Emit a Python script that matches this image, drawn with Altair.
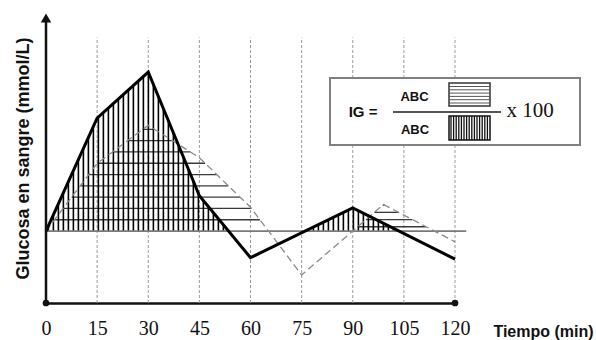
import altair as alt
import numpy as np
import pandas as pd

# ---------------- data ----------------
tick_times = [0, 15, 30, 45, 60, 75, 90, 105, 120]
grid_times = [15, 30, 45, 60, 75, 90, 105, 120]

test_time = [0, 15, 30, 45, 60, 90, 120]
test_glucose = [5.0, 12.85, 16.05, 7.45, 3.15, 6.6, 3.05]

ref_time = [0, 15, 30, 45, 60, 75, 90, 99, 120]
ref_glucose = [5.0, 9.7, 12.35, 10.1, 6.65, 1.95, 5.0, 6.85, 4.25]

fasting = 5.0
fasting_end = 123.3
grid_top = 18.45
axis_top = 19.9

x_title = "Tiempo (min)"
y_title = "Glucosa en sangre (mmol/L)"

# ---------------- derived hatch geometry ----------------
def runs(ts, gs, level, t0, t1):
    tt = np.linspace(t0, t1, 6001)
    gg = np.interp(tt, ts, gs)
    inside = gg >= level - 1e-9
    out = []
    i, n = 0, len(tt)
    while i < n:
        if inside[i]:
            j = i
            while j + 1 < n and inside[j + 1]:
                j += 1
            if j > i:
                out.append((tt[i], tt[j]))
            i = j + 1
        else:
            i += 1
    return out

tv = np.arange(0.7, 120, 1.467)
gv = np.interp(tv, test_time, test_glucose)
vh = pd.DataFrame({"t": tv, "g": gv})
vh = vh[vh.g > fasting + 0.08]
vh["g0"] = fasting

hrows = []
lvl = fasting + 0.785
while lvl < max(ref_glucose[:6]):
    for a, b in runs(ref_time, ref_glucose, lvl, 0, 75):
        hrows.append({"t": a, "t2": b, "g": lvl})
    lvl += 0.785
lvl = fasting + 0.3
while lvl < max(ref_glucose[6:]):
    for a, b in runs(ref_time, ref_glucose, lvl, 75, 120):
        hrows.append({"t": a, "t2": b, "g": lvl})
    lvl += 0.5
hh = pd.DataFrame(hrows)

X = alt.Scale(domain=[0, 120], nice=False, zero=False)
Y = alt.Scale(domain=[0, 20.5], nice=False, zero=False)

AX = alt.Axis(
    values=tick_times, domain=True, domainColor="#111", domainWidth=2.5,
    ticks=False, grid=False, labelFont="Liberation Serif", labelFontSize=20,
    labelColor="#111", labelPadding=15, labelFlush=False, labelOverlap=False,
    title=x_title, titleFont="Liberation Sans", titleFontSize=16,
    titleFontWeight="bold", titleColor="#111", titleX=497, titleY=33,
    titleAlign="center", titleBaseline="alphabetic")
AY = alt.Axis(
    domain=False, ticks=False, labels=False, grid=False,
    title=y_title, titleFont="Liberation Sans", titleFontSize=18,
    titleFontWeight="bold", titleColor="#111", titleAngle=270,
    titleX=-23, titleY=150, titleAlign="center", titleBaseline="middle")

def xq(f="t"):
    return alt.X(f"{f}:Q", scale=X, axis=AX)

def yq(f="g"):
    return alt.Y(f"{f}:Q", scale=Y, axis=AY)

# gridlines
grid = alt.Chart(pd.DataFrame({"t": grid_times, "g0": 0.0, "g": grid_top})).mark_rule(
    color="#9a9a9a", strokeWidth=1, strokeDash=[3, 2]
).encode(x=xq(), y=yq("g0"), y2="g")

EMPTY = alt.Data(values=[{}])

# legend box
box = alt.Chart(EMPTY).mark_rect(
    fill="white", stroke="#808080", strokeWidth=2
).encode(x=alt.value(284), x2=alt.value(534), y=alt.value(70), y2=alt.value(137))

# hatches
vhatch = alt.Chart(vh).mark_rule(color="black", strokeWidth=1.6).encode(
    x=xq(), y=yq("g0"), y2="g"
)
hhatch = alt.Chart(hh).mark_rule(color="#3a3a3a", strokeWidth=1.3).encode(
    x=xq(), x2="t2", y=yq()
)

# fasting line
base = alt.Chart(pd.DataFrame({"t": [0.0], "t2": [fasting_end], "g": [fasting]})).mark_rule(
    color="#7a7a7a", strokeWidth=1.8
).encode(x=xq(), x2="t2", y=yq())

ref_line = alt.Chart(pd.DataFrame({"t": ref_time, "g": ref_glucose})).mark_line(
    color="#8a8a8a", strokeWidth=1.3, strokeDash=[7, 4]
).encode(x=xq(), y=yq())

test_line = alt.Chart(pd.DataFrame({"t": test_time, "g": test_glucose})).mark_line(
    color="black", strokeWidth=3, strokeJoin="miter"
).encode(x=xq(), y=yq())

# y axis with arrow
yaxis = alt.Chart(pd.DataFrame({"t": [0.0], "g0": [0.0], "g": [axis_top]})).mark_rule(
    color="#111", strokeWidth=2.5
).encode(x=xq(), y=yq("g0"), y2="g")
arrow = alt.Chart(pd.DataFrame({"t": [0.0], "g": [axis_top - 0.1]})).mark_point(
    shape="triangle-up", size=110, filled=True, color="#111", opacity=1
).encode(x=xq(), y=yq())
dots = alt.Chart(pd.DataFrame({"t": [0.0, 120.0], "g": [0.0, 0.0]})).mark_point(
    shape="circle", size=45, filled=True, color="#111", opacity=1
).encode(x=xq(), y=yq())

# legend contents
def txt(s, x, y, size, font="Liberation Sans", weight="bold"):
    return alt.Chart(EMPTY).mark_text(
        text=s, fontSize=size, font=font, fontWeight=weight,
        align="center", baseline="middle", color="#111"
    ).encode(x=alt.value(x), y=alt.value(y))

def hrule(x1, x2, y, color, w):
    return alt.Chart(EMPTY).mark_rule(color=color, strokeWidth=w).encode(
        x=alt.value(x1), x2=alt.value(x2), y=alt.value(y))

def vrule(x, y1, y2, color, w):
    return alt.Chart(EMPTY).mark_rule(color=color, strokeWidth=w).encode(
        x=alt.value(x), y=alt.value(y1), y2=alt.value(y2))

def rect(x1, x2, y1, y2, stroke):
    return alt.Chart(EMPTY).mark_rect(fill="white", stroke=stroke, strokeWidth=1.5).encode(
        x=alt.value(x1), x2=alt.value(x2), y=alt.value(y1), y2=alt.value(y2))

legend = [
    txt("IG =", 317, 104, 15),
    txt("ABC", 368.5, 89, 13),
    txt("ABC", 369, 121.5, 13),
    txt("x 100", 484, 103, 21, font="Liberation Serif", weight="normal"),
    hrule(347, 455, 104, "#555", 2),
    rect(403, 444, 75, 98, "#333"),
]
legend += [hrule(403, 444, float(py), "#555", 1) for py in np.arange(78.5, 97, 3.3)]
legend += [rect(403, 444, 108, 132, "#111")]
legend += [vrule(float(px), 108, 132, "#111", 1.3) for px in np.arange(405, 443, 2.6)]

chart = alt.layer(
    grid, box, hhatch, vhatch, base, ref_line, test_line, yaxis, arrow, dots, *legend
).properties(
    width=409, height=295, autosize="none",
    padding={"left": 46, "top": 8, "right": 141, "bottom": 37},
    background="white"
).configure_view(stroke=None)

chart.save("out.html", embed_options={"renderer": "svg", "actions": False})
